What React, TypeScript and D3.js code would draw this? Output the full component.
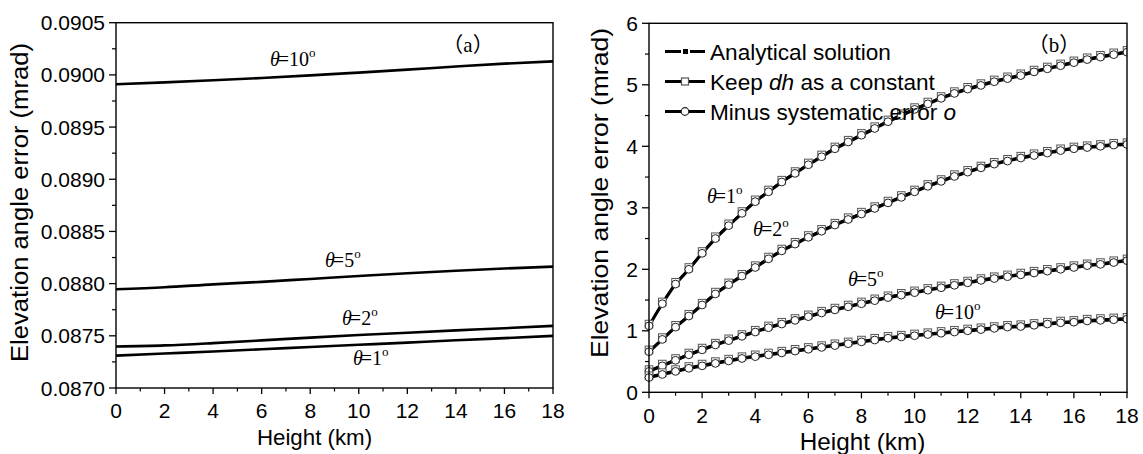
import React from "react";
import * as d3 from "d3";

// ---------- Panel (a) data ----------
const heightsA = [0, 2, 4, 6, 8, 10, 12, 14, 16, 18];
const aTheta10 = [0.08991, 0.089928, 0.089948, 0.08997, 0.089995, 0.090022, 0.09005, 0.09008, 0.090108, 0.09013];
const aTheta5 = [0.087946, 0.087965, 0.087993, 0.088017, 0.088045, 0.088073, 0.0881, 0.088124, 0.088145, 0.088163];
const aTheta2 = [0.087397, 0.087408, 0.08743, 0.087456, 0.087483, 0.087508, 0.08753, 0.087552, 0.087573, 0.087595];
const aTheta1 = [0.08731, 0.08733, 0.08735, 0.087371, 0.087393, 0.087414, 0.087435, 0.087457, 0.087478, 0.087499];
const aYTicks = [0.087, 0.0875, 0.088, 0.0885, 0.089, 0.0895, 0.09, 0.0905];
const aYMinor = [0.08725, 0.08775, 0.08825, 0.08875, 0.08925, 0.08975, 0.09025];
const xTicks = [0, 2, 4, 6, 8, 10, 12, 14, 16, 18];
const xMinor = [1, 3, 5, 7, 9, 11, 13, 15, 17];

const aLabels = [
  { x: 6.34, y: 0.090085, deg: "10" },
  { x: 8.61, y: 0.08816, deg: "5" },
  { x: 9.31, y: 0.087604, deg: "2" },
  { x: 9.76, y: 0.087221, deg: "1" },
];

// ---------- Panel (b) data ----------
const heightsB = [0, 0.5, 1, 1.5, 2, 2.5, 3, 3.5, 4, 4.5, 5, 5.5, 6, 6.5, 7, 7.5, 8, 8.5, 9, 9.5, 10, 10.5, 11, 11.5, 12, 12.5, 13, 13.5, 14, 14.5, 15, 15.5, 16, 16.5, 17, 17.5, 18];
const bTheta1 = [1.08, 1.44, 1.76, 2.0, 2.26, 2.5, 2.71, 2.91, 3.1, 3.26, 3.42, 3.56, 3.7, 3.83, 3.96, 4.07, 4.18, 4.29, 4.4, 4.5, 4.6, 4.69, 4.78, 4.86, 4.93, 4.99, 5.05, 5.1, 5.15, 5.21, 5.26, 5.31, 5.36, 5.41, 5.45, 5.49, 5.53];
const bTheta2 = [0.66, 0.86, 1.06, 1.24, 1.42, 1.6, 1.75, 1.89, 2.03, 2.17, 2.3, 2.41, 2.52, 2.62, 2.72, 2.81, 2.9, 2.99, 3.08, 3.17, 3.26, 3.35, 3.43, 3.51, 3.58, 3.65, 3.71, 3.76, 3.81, 3.85, 3.89, 3.93, 3.96, 3.98, 4.0, 4.02, 4.03];
const bTheta5 = [0.34, 0.43, 0.52, 0.61, 0.69, 0.77, 0.84, 0.91, 0.98, 1.05, 1.11, 1.17, 1.23, 1.29, 1.34, 1.39, 1.44, 1.49, 1.54, 1.58, 1.62, 1.66, 1.7, 1.74, 1.78, 1.82, 1.85, 1.88, 1.91, 1.94, 1.97, 2.0, 2.03, 2.06, 2.08, 2.11, 2.14];
const bTheta10 = [0.24, 0.29, 0.34, 0.39, 0.43, 0.47, 0.51, 0.55, 0.58, 0.61, 0.64, 0.67, 0.7, 0.73, 0.76, 0.79, 0.82, 0.85, 0.88, 0.9, 0.92, 0.94, 0.96, 0.98, 1.0, 1.02, 1.04, 1.06, 1.07, 1.09, 1.11, 1.13, 1.14, 1.16, 1.17, 1.18, 1.19];
const bYTicks = [0, 1, 2, 3, 4, 5, 6];
const bYMinor = [0.5, 1.5, 2.5, 3.5, 4.5, 5.5];

const bLabels = [
  { x: 2.18, y: 3.08, deg: "1" },
  { x: 3.92, y: 2.54, deg: "2" },
  { x: 7.49, y: 1.73, deg: "5" },
  { x: 10.77, y: 1.19, deg: "10" },
];

const legendItems = ["analytical", "keep", "minus"];

const SANS = "'Liberation Sans', Arial, sans-serif";
const SERIF = "'Liberation Serif', 'Times New Roman', serif";

function ThetaLabel({ x, y, deg }: { x: number; y: number; deg: string }) {
  return (
    <text x={x} y={y} fontFamily={SERIF} fontSize={20} fill="#000">
      <tspan fontStyle="italic">θ</tspan>
      <tspan dx={-2}>={deg}</tspan>
      <tspan fontSize={13} dy={-9}>o</tspan>
    </text>
  );
}

export default function App() {
  const ax = d3.scaleLinear().domain([0, 18]).range([116, 553]);
  const ay = d3.scaleLinear().domain([0.087, 0.0905]).range([388, 22.7]);
  const bx = d3.scaleLinear().domain([0, 18]).range([649, 1127]);
  const by = d3.scaleLinear().domain([0, 6]).range([392.3, 23.3]);

  const aLine = d3
    .line<number>()
    .x((_, i) => ax(heightsA[i]))
    .y((d) => ay(d))
    .curve(d3.curveMonotoneX);
  const bLine = d3
    .line<number>()
    .x((_, i) => bx(heightsB[i]))
    .y((d) => by(d))
    .curve(d3.curveMonotoneX);

  const aSeries = [aTheta10, aTheta5, aTheta2, aTheta1];
  const bSeries = [bTheta1, bTheta2, bTheta5, bTheta10];

  return (
    <div style={{ position: "absolute", left: 0, top: 0 }}>
      <svg width={1143} height={454} style={{ display: "block", background: "#fff" }}>
        <defs>
          <clipPath id="clipB">
            <rect x={bx(0) - 6} y={by(6)} width={bx(18) - bx(0) + 6} height={by(0) - by(6)} />
          </clipPath>
        </defs>

        {/* ================= Panel (a) ================= */}
        <g>
          {aSeries.map((s, k) => (
            <path key={k} d={aLine(s) || ""} fill="none" stroke="#000" strokeWidth={2.6} strokeLinejoin="round" />
          ))}
          <rect x={ax(0)} y={ay(0.0905)} width={ax(18) - ax(0)} height={ay(0.087) - ay(0.0905)} fill="none" stroke="#000" strokeWidth={1.4} />
          {aYTicks.map((t) => (
            <g key={t}>
              <line x1={ax(0) - 7} x2={ax(0)} y1={ay(t)} y2={ay(t)} stroke="#000" strokeWidth={1.3} />
              <text x={ax(0) - 11} y={ay(t)} dy="0.36em" textAnchor="end" fontFamily={SANS} fontSize={21}>
                {d3.format(".4f")(t)}
              </text>
            </g>
          ))}
          {aYMinor.map((t, i) => (
            <line key={i} x1={ax(0) - 4} x2={ax(0)} y1={ay(t)} y2={ay(t)} stroke="#000" strokeWidth={1.2} />
          ))}
          {xTicks.map((t) => (
            <g key={t}>
              <line x1={ax(t)} x2={ax(t)} y1={ay(0.087)} y2={ay(0.087) + 6} stroke="#000" strokeWidth={1.3} />
              <text x={ax(t)} y={ay(0.087) + 30} textAnchor="middle" fontFamily={SANS} fontSize={21}>
                {t}
              </text>
            </g>
          ))}
          {xMinor.map((t) => (
            <line key={t} x1={ax(t)} x2={ax(t)} y1={ay(0.087)} y2={ay(0.087) + 3.5} stroke="#000" strokeWidth={1.2} />
          ))}
          <text x={314.5} y={445} textAnchor="middle" fontFamily={SANS} fontSize={22.3}>
            Height (km)
          </text>
          <text
            transform={`translate(28,202.5) rotate(-90)`}
            textAnchor="middle"
            fontFamily={SANS}
            fontSize={23}
            textLength={319}
            lengthAdjust="spacingAndGlyphs"
          >
            Elevation angle error (mrad)
          </text>
          <text x={ax(14.5)} y={ay(0.09022)} textAnchor="middle" fontFamily={`'Noto Sans CJK SC', ${SERIF}`} fontSize={21}>
            <tspan>（</tspan>
            <tspan fontFamily={SERIF}>a</tspan>
            <tspan>）</tspan>
          </text>
          {aLabels.map((l, i) => (
            <ThetaLabel key={i} x={ax(l.x)} y={ay(l.y)} deg={l.deg} />
          ))}
        </g>

        {/* ================= Panel (b) ================= */}
        <g>
          <g clipPath="url(#clipB)">
            {bSeries.map((s, k) => (
              <g key={k}>
                <path d={bLine(s) || ""} fill="none" stroke="#000" strokeWidth={3.2} strokeLinejoin="round" />
                {s.map((v, i) => (
                  <rect key={i} x={bx(heightsB[i]) - 2.5} y={by(v) - 2.5} width={5} height={5} fill="#000" />
                ))}
                <path d={bLine(s) || ""} fill="none" stroke="#000" strokeWidth={1} transform="translate(0,-1.5)" />
                {s.map((v, i) => (
                  <rect
                    key={"s" + i}
                    x={bx(heightsB[i]) - 3.8}
                    y={by(v) - 3.8 - 1.8}
                    width={7.6}
                    height={7.6}
                    fill="#fff"
                    stroke="#555"
                    strokeWidth={1}
                  />
                ))}
                {s.map((v, i) => (
                  <circle key={"c" + i} cx={bx(heightsB[i])} cy={by(v)} r={3.9} fill="#fff" stroke="#222" strokeWidth={1} />
                ))}
              </g>
            ))}
          </g>
          <rect x={bx(0)} y={by(6)} width={bx(18) - bx(0)} height={by(0) - by(6)} fill="none" stroke="#000" strokeWidth={1.4} />
          {bYTicks.map((t) => (
            <g key={t}>
              <line x1={bx(0) - 7} x2={bx(0)} y1={by(t)} y2={by(t)} stroke="#000" strokeWidth={1.3} />
              <text x={bx(0) - 11} y={by(t)} dy="0.36em" textAnchor="end" fontFamily={SANS} fontSize={21}>
                {t}
              </text>
            </g>
          ))}
          {bYMinor.map((t) => (
            <line key={t} x1={bx(0) - 4} x2={bx(0)} y1={by(t)} y2={by(t)} stroke="#000" strokeWidth={1.2} />
          ))}
          {xTicks.map((t) => (
            <g key={t}>
              <line x1={bx(t)} x2={bx(t)} y1={by(0)} y2={by(0) + 6} stroke="#000" strokeWidth={1.3} />
              <text x={bx(t)} y={by(0) + 31} textAnchor="middle" fontFamily={SANS} fontSize={21}>
                {t}
              </text>
            </g>
          ))}
          {xMinor.map((t) => (
            <line key={t} x1={bx(t)} x2={bx(t)} y1={by(0)} y2={by(0) + 3.5} stroke="#000" strokeWidth={1.2} />
          ))}
          <text x={862.5} y={450} textAnchor="middle" fontFamily={SANS} fontSize={24.3}>
            Height (km)
          </text>
          <text
            transform={`translate(608,193) rotate(-90)`}
            textAnchor="middle"
            fontFamily={SANS}
            fontSize={24}
            textLength={330}
            lengthAdjust="spacingAndGlyphs"
          >
            Elevation angle error (mrad)
          </text>
          <text x={bx(15.25)} y={by(5.53)} textAnchor="middle" fontFamily={`'Noto Sans CJK SC', ${SERIF}`} fontSize={21}>
            <tspan>（</tspan>
            <tspan fontFamily={SERIF}>b</tspan>
            <tspan>）</tspan>
          </text>
          {bLabels.map((l, i) => (
            <ThetaLabel key={i} x={bx(l.x)} y={by(l.y)} deg={l.deg} />
          ))}

          {legendItems.map((item, i) => {
            const cy = 51.5 + i * 30;
            return (
              <g key={item}>
                <line x1={665} x2={705} y1={cy} y2={cy} stroke="#000" strokeWidth={3.2} />
                {item === "analytical" && (
                  <rect x={682} y={cy - 3.5} width={7} height={7} fill="#000" stroke="#fff" strokeWidth={2} />
                )}
                {item === "keep" && (
                  <rect x={681.5} y={cy - 3.5} width={7} height={7} fill="#fff" stroke="#555" strokeWidth={1.2} />
                )}
                {item === "minus" && <circle cx={685} cy={cy} r={3.8} fill="#fff" stroke="#222" strokeWidth={1.2} />}
                <text x={710} y={cy} dy="0.36em" fontFamily={SANS} fontSize={22.6}>
                  {item === "analytical" && "Analytical solution"}
                  {item === "keep" && (
                    <>
                      Keep <tspan fontStyle="italic">dh</tspan> as a constant
                    </>
                  )}
                  {item === "minus" && (
                    <>
                      Minus systematic error <tspan fontStyle="italic">o</tspan>
                    </>
                  )}
                </text>
              </g>
            );
          })}
        </g>
      </svg>
    </div>
  );
}
